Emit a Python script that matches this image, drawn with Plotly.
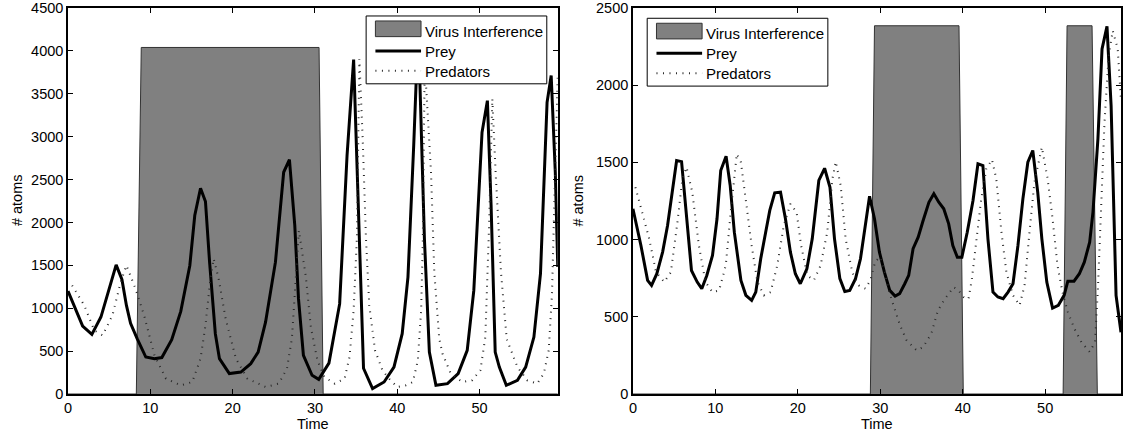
import plotly.graph_objects as go

# ---------------- left panel: single long interference window ----------------
t_prey_left = [0, 1.78, 2.9, 4.0, 5.85, 6.55, 7.1, 7.6, 8.4, 9.45, 10.5, 11.4, 12.6, 13.7,
               14.8, 15.4, 16.1, 16.7, 17.2, 17.9, 18.4, 19.6, 21.0, 22.2, 23.1, 24.0, 25.2,
               26.2, 26.9, 27.55, 28.0, 28.6, 29.65, 30.46, 31.7, 33.0, 33.9, 34.7, 35.9,
               37.0, 38.4, 39.6, 40.6, 41.3, 42.0, 42.5, 42.75, 43.3, 43.9, 44.7, 46.1,
               47.4, 48.5, 49.3, 50.3, 50.95, 51.4, 51.9, 52.4, 53.25, 54.6, 55.6, 56.6,
               57.4, 58.2, 58.7, 59.2, 59.5]
prey_left = [1200, 792, 695, 897, 1505, 1336, 1033, 823, 645, 431, 412, 425, 633, 963,
             1499, 2081, 2399, 2244, 1537, 703, 412, 238, 256, 354, 489, 838, 1537,
             2585, 2733, 1965, 1111, 451, 218, 171, 360, 1050, 2780, 3898, 300,
             63, 140, 314, 703, 1363, 2900, 4150, 3633, 1810, 489, 101, 121,
             238, 509, 1208, 3051, 3420, 2198, 489, 314, 101, 160, 314, 664,
             1402, 3400, 3712, 2585, 1480]

t_pred_left = [0.5, 1.98, 3.19, 4.2, 5.4, 6.4, 7.1, 8.2, 9.25, 10.5, 11.9, 13.7, 15.1,
               16.1, 16.7, 17.3, 17.7, 18.3, 19.15, 20.4, 21.8, 24.0, 25.6, 26.6, 27.2,
               27.6, 28.05, 28.9, 29.5, 30.3, 31.15, 32.4, 33.6, 34.2, 34.7, 35.1, 35.4,
               35.8, 36.2, 36.6, 37.3, 38.2, 39.0, 40.0, 41.05, 41.9, 42.5, 42.9, 43.1,
               43.35, 43.5, 44.1, 44.5, 45.1, 45.5, 46.5, 47.9, 49.1, 50.1, 50.7, 50.95,
               51.15, 51.55, 51.95, 52.6, 53.3, 54.6, 55.8, 57.0, 57.8, 58.4, 58.8, 59.1,
               59.5]
pred_left = [1266, 1033, 742, 684, 917, 1304, 1499, 1227, 917, 451, 179, 101, 140,
             412, 800, 1344, 1577, 1344, 878, 412, 179, 82, 121, 296, 645,
             1227, 1906, 1363, 780, 392, 198, 121, 179, 431, 975, 1828, 3906,
             2974, 1810, 1033, 509, 276, 179, 82, 101, 140, 392, 975, 1752,
             4000, 3595, 2585, 1421, 645, 470, 238, 140, 160, 276, 664, 1363,
             1945, 3440, 2585, 1421, 640, 314, 160, 121, 238, 509, 1168, 2300,
             3700]

t_virus_left = [0, 8.3, 8.9, 30.5, 31.0, 59.5]
virus_left = [0, 0, 4040, 4040, 0, 0]

# ---------------- right panel: two interference windows ----------------
t_prey_right = [0, 0.97, 1.78, 2.26, 2.9, 3.6, 4.2, 4.8, 5.3, 5.9, 6.4, 7.1, 7.8, 8.35,
                8.96, 9.65, 10.2, 10.65, 11.3, 11.8, 12.3, 13.1, 13.7, 14.4, 14.9, 15.5,
                16.1, 16.6, 17.2, 17.9, 18.5, 19.1, 19.7, 20.3, 21.1, 21.75, 22.55, 23.25,
                23.9, 24.45, 25.1, 25.7, 26.3, 27.0, 27.6, 28.2, 28.7, 29.3, 29.9, 30.5,
                31.15, 31.8, 32.35, 32.97, 33.45, 33.98, 34.6, 35.2, 35.9, 36.5, 37.1,
                37.7, 38.3, 38.8, 39.35, 39.9, 40.55, 41.25, 41.85, 42.45, 43.06, 43.67,
                44.27, 44.9, 45.5, 46.1, 46.7, 47.3, 47.9, 48.5, 49.1, 49.6, 50.2, 50.9,
                51.6, 52.3, 52.75, 53.5, 54.15, 54.75, 55.4, 55.8, 56.4, 56.9, 57.5, 58.0,
                58.6, 59.2]
prey_right = [1200, 962, 736, 703, 779, 919, 1091, 1307, 1512, 1505, 1221, 800, 725, 682,
              768, 897, 1135, 1447, 1540, 1350, 1048, 736, 639, 606, 660, 876,
              1048, 1189, 1303, 1307, 1135, 919, 779, 714, 811, 1005, 1383, 1462,
              1339, 1005, 747, 664, 671, 747, 876, 1113, 1281, 1135, 919, 789,
              671, 634, 650, 714, 768, 941, 1016, 1124, 1242, 1297, 1242,
              1200, 1102, 962, 886, 886, 1048, 1253, 1491, 1480, 1005, 660,
              628, 617, 660, 714, 962, 1264, 1501, 1577, 1307, 1005, 725, 556,
              574, 639, 731, 731, 779, 854, 983, 1178, 1652, 2235, 2381, 1868,
              639, 400]

t_pred_right = [0.3, 1.98, 2.8, 3.8, 4.6, 5.4, 6.0, 6.5, 7.2, 8.0, 8.8, 9.65, 10.45,
                11.26, 11.86, 12.6, 13.1, 13.7, 14.4, 15.1, 15.9, 16.7, 17.5, 18.3, 19.1,
                19.85, 20.4, 21.15, 21.95, 22.76, 23.57, 24.2, 24.6, 25.2, 25.8, 26.6,
                27.4, 28.2, 28.8, 29.4, 30.0, 30.5, 31.0, 31.6, 32.4, 33.2, 34.4, 35.2,
                36.2, 37.0, 37.85, 38.9, 39.5, 40.1, 40.7, 41.1, 41.65, 42.25, 42.86,
                43.55, 44.07, 44.7, 45.3, 46.1, 46.9, 47.5, 48.1, 48.7, 49.6, 50.3, 50.9,
                51.5, 52.1, 52.75, 53.55, 54.4, 55.4, 56.05, 56.4, 56.8, 57.2, 57.7, 58.2,
                58.8, 59.2]
pred_right = [1339, 1005, 789, 725, 789, 1113, 1394, 1469, 1307, 962, 725, 660, 671,
              832, 1178, 1555, 1501, 1264, 962, 725, 639, 660, 832, 1091, 1232,
              1178, 962, 768, 736, 832, 1048, 1394, 1505, 1350, 1005, 789,
              703, 682, 736, 860, 886, 800, 680, 574, 444, 347, 283, 304,
              391, 542, 617, 692, 671, 628, 615, 740, 1005, 1264, 1458,
              1518, 1394, 1048, 789, 639, 574, 703, 1048, 1372, 1598, 1394, 1135,
              832, 660, 531, 423, 336, 272, 336, 682, 1221, 1760, 2191, 2353,
              2235, 1900]

t_virus_right = [0, 28.8, 29.3, 39.55, 40.07, 52.18, 52.66, 55.69, 56.33, 59.2]
virus_right = [0, 0, 2385, 2385, 0, 0, 2385, 2385, 0, 0]

# ---------------- axis ticks and labels ----------------
x_ticks = [0, 10, 20, 30, 40, 50]
y_ticks_left = [0, 500, 1000, 1500, 2000, 2500, 3000, 3500, 4000, 4500]
y_ticks_right = [0, 500, 1000, 1500, 2000, 2500]
legend_labels = ["Virus Interference", "Prey", "Predators"]

# ---------------- figure geometry ----------------
W, H = 1123, 437
ML, MR, MT, MB = 68, 0, 7, 43
FONT = "Liberation Sans, Arial, Helvetica, sans-serif"
AREA_FILL = "#808080"
AREA_EDGE = "#333333"
PRED_COLOR = "#2a2a2a"
PRED_DASH = "1px,5.5px"


def px_x(p):
    return (p - ML) / (W - ML - MR)


def px_y(p):
    return 1 - (p - MT) / (H - MT - MB)


fig = go.Figure()

panels = [
    ("x", "y", t_virus_left, virus_left, t_prey_left, prey_left, t_pred_left, pred_left),
    ("x2", "y2", t_virus_right, virus_right, t_prey_right, prey_right, t_pred_right, pred_right),
]
for xa, ya, tv, vv, tp, pv, td, dv in panels:
    fig.add_trace(go.Scatter(x=tv, y=vv, mode="lines", fill="tozeroy",
                             fillcolor=AREA_FILL, line=dict(color=AREA_EDGE, width=1),
                             name=legend_labels[0], showlegend=False,
                             xaxis=xa, yaxis=ya, hoverinfo="skip"))
    fig.add_trace(go.Scatter(x=tp, y=pv, mode="lines",
                             line=dict(color="black", width=3),
                             name=legend_labels[1], showlegend=False,
                             xaxis=xa, yaxis=ya))
    fig.add_trace(go.Scatter(x=td, y=dv, mode="lines",
                             line=dict(color=PRED_COLOR, width=2, dash=PRED_DASH),
                             name=legend_labels[2], showlegend=False,
                             xaxis=xa, yaxis=ya))

axis_style = dict(showline=True, linecolor="black", linewidth=1.5, mirror="ticks",
                  ticks="inside", ticklen=5, tickwidth=1, tickcolor="black",
                  showgrid=False, zeroline=False, ticklabeloverflow="allow",
                  tickfont=dict(family=FONT, size=14.5, color="black"))

fig.update_layout(
    width=W, height=H,
    margin=dict(l=ML, r=MR, t=MT, b=MB),
    paper_bgcolor="white", plot_bgcolor="white",
    showlegend=False,
    xaxis=dict(domain=[0, px_x(558.7)], range=[0, 59.5], tickvals=x_ticks, anchor="y", **axis_style),
    yaxis=dict(domain=[0, 1], range=[0, 4500], tickvals=y_ticks_left, anchor="x", **axis_style),
    xaxis2=dict(domain=[px_x(634), 1], range=[0, 59.2], tickvals=x_ticks, anchor="y2", **axis_style),
    yaxis2=dict(domain=[0, 1], range=[0, 2500], tickvals=y_ticks_right, anchor="x2", **axis_style),
)

# axis titles
title_font = dict(family=FONT, size=14.5, color="black")
for cx in (313.3, 878.8):
    fig.add_annotation(text="Time", x=px_x(cx), y=px_y(424), xref="paper", yref="paper",
                       showarrow=False, xanchor="center", yanchor="middle", font=title_font)
for cx in (16.5, 578):
    fig.add_annotation(text="# atoms", x=px_x(cx), y=px_y(200), xref="paper", yref="paper",
                       showarrow=False, xanchor="center", yanchor="middle",
                       textangle=-90, font=title_font)


# legend boxes drawn in each panel's upper area
def add_legend(ox, oy):
    fig.add_shape(type="rect", xref="paper", yref="paper", layer="above",
                  x0=px_x(ox), x1=px_x(ox + 181), y0=px_y(oy + 68), y1=px_y(oy),
                  line=dict(color="black", width=1), fillcolor="white")
    sx0, sx1 = px_x(ox + 9.3), px_x(ox + 55)
    fig.add_shape(type="rect", xref="paper", yref="paper", layer="above",
                  x0=sx0, x1=sx1, y0=px_y(oy + 20.7), y1=px_y(oy + 5),
                  line=dict(color=AREA_EDGE, width=1), fillcolor=AREA_FILL)
    fig.add_shape(type="line", xref="paper", yref="paper", layer="above",
                  x0=sx0, x1=sx1, y0=px_y(oy + 35), y1=px_y(oy + 35),
                  line=dict(color="black", width=3))
    fig.add_shape(type="line", xref="paper", yref="paper", layer="above",
                  x0=sx0, x1=sx1, y0=px_y(oy + 55), y1=px_y(oy + 55),
                  line=dict(color=PRED_COLOR, width=2, dash=PRED_DASH))
    for label, dy in zip(legend_labels, (15.5, 35.5, 55.5)):
        fig.add_annotation(text=label, x=px_x(ox + 57), y=px_y(oy + dy),
                           xref="paper", yref="paper", showarrow=False,
                           xanchor="left", yanchor="middle",
                           font=dict(family=FONT, size=15, color="black"))


add_legend(366.7, 15)
add_legend(648.3, 17.3)

fig.write_html("out.html")
